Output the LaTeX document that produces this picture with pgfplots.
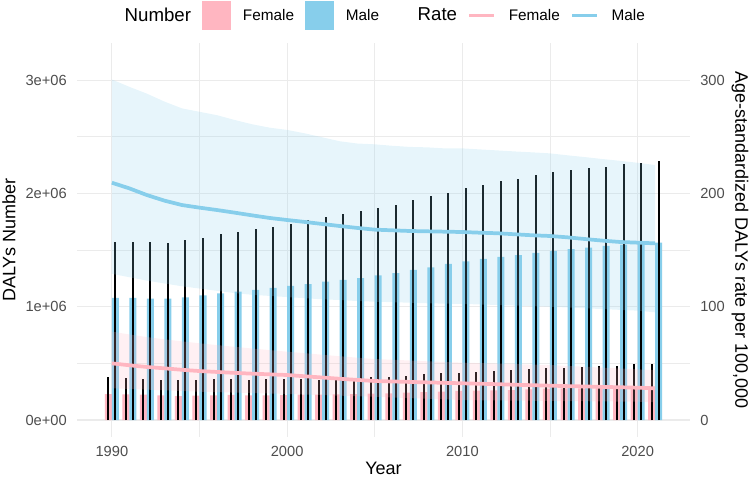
\documentclass[border=0pt]{standalone}
\usepackage{pgfplots}
\pgfplotsset{compat=1.18}
\usepackage{pgfplotstable}
\usepackage{fontspec}
\setmainfont{Liberation Sans}

\definecolor{pinkc}{HTML}{FFB6C1}
\definecolor{bluec}{HTML}{87CEEB}
\definecolor{gridc}{HTML}{EBEBEB}
\definecolor{tickc}{HTML}{4D4D4D}

% DALYs number (bar) and upper bound (error bar)
\pgfplotstableread{
year fnum   fup    mnum    mup
1990 229500 376600 1077000 1574000
1991 226500 368000 1077000 1568000
1992 223600 359000 1071000 1568000
1993 217700 353000 1071000 1565000
1994 211800 350000 1083000 1586000
1995 214800 353000 1100000 1609000
1996 217700 359000 1118000 1644000
1997 220700 359000 1133000 1662000
1998 217700 356000 1148000 1683000
1999 217700 359000 1165000 1703000
2000 220700 359000 1183000 1730000
2001 223600 359000 1200000 1763000
2002 223600 356000 1221000 1789000
2003 226500 362000 1236000 1815000
2004 229500 368000 1253000 1842000
2005 232400 377000 1277000 1868000
2006 235400 382000 1297000 1900000
2007 241200 391000 1324000 1939000
2008 247100 403000 1348000 1974000
2009 250000 412000 1377000 2001000
2010 256000 418000 1401000 2045000
2011 258900 424000 1421000 2077000
2012 261800 432000 1439000 2106000
2013 264800 441000 1456000 2130000
2014 270700 450000 1474000 2159000
2015 276500 456000 1492000 2186000
2016 279500 459000 1509000 2204000
2017 279500 465000 1521000 2227000
2018 285400 474000 1536000 2236000
2019 288300 479000 1547000 2257000
2020 294200 491000 1553000 2266000
2021 294200 491000 1565000 2283000
}\numtab

% age-standardized rate per 100,000
\pgfplotstableread{
year frate mrate
1990 50.0  209.4
1991 48.3  204.4
1992 46.8  198.5
1993 45.6  193.6
1994 44.3  189.7
1995 43.2  187.4
1996 42.4  185.3
1997 41.6  183.0
1998 40.9  180.6
1999 40.3  178.3
2000 39.7  176.5
2001 38.6  174.8
2002 37.5  173.0
2003 36.4  171.2
2004 35.4  169.5
2005 34.4  168.0
2006 34.0  167.4
2007 33.6  166.8
2008 33.2  166.5
2009 32.8  166.2
2010 32.4  165.9
2011 32.0  165.3
2012 31.6  164.8
2013 31.1  163.9
2014 30.7  163.0
2015 30.3  162.4
2016 29.9  161.2
2017 29.6  159.7
2018 29.2  158.3
2019 28.9  157.1
2020 28.5  156.5
2021 28.0  155.9
}\ratetab

\begin{document}
\begin{tikzpicture}
\path[use as bounding box] (-57.75pt,-32.25pt) rectangle (504.75pt,327.75pt);

\begin{axis}[
  at={(0,0)}, anchor=south west,
  scale only axis, width=459.75pt, height=295.5pt,
  xmin=1988.01, xmax=2022.99,
  ymin=-150000, ymax=3327000,
  axis line style={draw=none},
  major tick length=0pt, minor tick length=0pt,
  xtick={1990,2000,2010,2020}, xticklabels={1990,2000,2010,2020},
  minor xtick={1995,2005,2015},
  ytick={0,1000000,2000000,3000000}, yticklabels={0e+00,1e+06,2e+06,3e+06},
  minor ytick={500000,1500000,2500000},
  scaled y ticks=false,
  grid=both,
  major grid style={gridc, line width=0.8pt},
  minor grid style={gridc, line width=0.45pt},
  tick label style={font=\fontsize{11}{13}\selectfont, text=tickc},
  xticklabel style={inner sep=0pt, anchor=north, yshift=-6.75pt},
  yticklabel style={inner sep=0pt, anchor=east, xshift=-7.5pt},
  xlabel={Year}, ylabel={DALYs Number},
  label style={font=\fontsize{13.5}{16}\selectfont},
  xlabel style={at={(axis description cs:0.5,0)}, anchor=north, inner sep=0pt, yshift=-18.75pt},
  ylabel style={at={(axis description cs:-0.111,0.5)}, anchor=center, inner sep=0pt},
  legend style={at={(axis description cs:0.0571,1.0698)}, anchor=west,
    draw=none, fill=none, inner sep=0pt, outer sep=0pt,
    font=\fontsize{11.5}{13}\selectfont,
    /tikz/every odd column/.append style={column sep=7.5pt},
    /tikz/every even column/.append style={column sep=6pt}},
  legend columns=-1,
]
\addlegendimage{empty legend}
\addlegendentry{\fontsize{14}{16}\selectfont Number}
\addlegendimage{legend image code/.code={\fill[pinkc] (0pt,-10.5pt) rectangle (21pt,10.5pt);}}
\addlegendentry{Female}
\addlegendimage{legend image code/.code={\fill[bluec] (0pt,-10.5pt) rectangle (21pt,10.5pt);}}
\addlegendentry{Male}

\addplot[forget plot, ybar, bar width=0.4, bar shift=0pt, fill=pinkc, draw=none]
  table[x expr=\thisrow{year}-0.2, y=fnum]{\numtab};
\addplot[forget plot, ybar, bar width=0.4, bar shift=0pt, fill=bluec, draw=none]
  table[x expr=\thisrow{year}+0.2, y=mnum]{\numtab};
\addplot[forget plot, ycomb, black, line width=1.5pt, mark=none]
  table[x expr=\thisrow{year}-0.2, y=fup]{\numtab};
\addplot[forget plot, ycomb, black, line width=1.5pt, mark=none]
  table[x expr=\thisrow{year}+0.2, y=mup]{\numtab};
\end{axis}

\begin{axis}[
  at={(0,0)}, anchor=south west,
  scale only axis, width=459.75pt, height=295.5pt,
  xmin=1988.01, xmax=2022.99,
  ymin=-15, ymax=332.7,
  axis y line*=right,
  axis line style={draw=none},
  major tick length=0pt, xtick=\empty,
  ytick={0,100,200,300}, yticklabels={0,100,200,300},
  yticklabel style={inner sep=0pt, anchor=west, xshift=7.5pt,
    font=\fontsize{11}{13}\selectfont, text=tickc},
  ylabel={Age-standardized DALYs rate per 100,000},
  ylabel style={at={(axis description cs:1.0816,0.5)}, anchor=center, rotate=180,
    inner sep=0pt, font=\fontsize{13.5}{16}\selectfont},
  legend style={at={(axis description cs:0.5351,1.0698)}, anchor=west,
    draw=none, fill=none, inner sep=0pt, outer sep=0pt,
    font=\fontsize{11.5}{13}\selectfont,
    /tikz/every odd column/.append style={column sep=7.5pt},
    /tikz/every even column/.append style={column sep=6pt}},
  legend columns=-1,
]
\addlegendimage{empty legend}
\addlegendentry{\fontsize{14}{16}\selectfont Rate}
\addlegendimage{legend image code/.code={\draw[pinkc, line width=2.5pt] (0pt,0pt) -- (18.75pt,0pt);}}
\addlegendentry{Female}
\addlegendimage{legend image code/.code={\draw[bluec, line width=2.5pt] (0pt,0pt) -- (18.75pt,0pt);}}
\addlegendentry{Male}

% uncertainty ribbons: upper bound 1990-2021, then lower bound 2021-1990
\addplot[forget plot, fill=pinkc, fill opacity=0.2, draw=none, mark=none] coordinates {
(1990,78)(1991,75.5)(1992,73.2)(1993,71.2)(1994,69.4)(1995,67.7)(1996,66.1)(1997,64.6)
(1998,63.1)(1999,61.7)(2000,60.3)(2001,59)(2002,57.6)(2003,56.3)(2004,55)(2005,53.8)
(2006,53.2)(2007,52.5)(2008,51.8)(2009,51.2)(2010,50.6)(2011,50.2)(2012,49.8)(2013,49.3)
(2014,48.9)(2015,48.5)(2016,47.7)(2017,47)(2018,46.2)(2019,45.5)(2020,44.7)(2021,44)
(2021,15.6)(2020,16.2)(2019,16.3)(2018,16.4)(2017,16.6)(2016,16.7)(2015,16.8)(2014,17)
(2013,17.1)(2012,17.3)(2011,17.4)(2010,17.6)(2009,18.2)(2008,18.8)(2007,19.3)(2006,19.9)
(2005,20.5)(2004,21)(2003,21.5)(2002,22)(2001,22.5)(2000,23)(1999,23.4)(1998,23.8)
(1997,24.2)(1996,24.6)(1995,25)(1994,25.6)(1993,26.2)(1992,26.8)(1991,27.4)(1990,28)
};
\addplot[forget plot, fill=bluec, fill opacity=0.2, draw=none, mark=none] coordinates {
(1990,300.5)(1991,294)(1992,288)(1993,281)(1994,275)(1995,272)(1996,269)(1997,264.8)
(1998,261)(1999,258)(2000,256)(2001,253)(2002,249.5)(2003,246)(2004,244)(2005,243.3)
(2006,242)(2007,241)(2008,240.6)(2009,239.7)(2010,239.7)(2011,238.8)(2012,237.9)(2013,237)
(2014,236.2)(2015,235.3)(2016,233.6)(2017,232)(2018,230.3)(2019,228.7)(2020,227)(2021,225)
(2021,95)(2020,96.5)(2019,97.2)(2018,97.9)(2017,98.6)(2016,99.3)(2015,100)(2014,100.5)
(2013,101)(2012,101.5)(2011,102)(2010,102.4)(2009,102.7)(2008,103)(2007,103.5)(2006,104)
(2005,104.4)(2004,105)(2003,105.9)(2002,106.5)(2001,107.5)(2000,108.5)(1999,109.5)(1998,110.5)
(1997,112)(1996,114)(1995,116)(1994,118)(1993,120.5)(1992,123)(1991,126)(1990,129)
};
\addplot[forget plot, pinkc, line width=2.8pt, mark=none] table[x=year, y=frate]{\ratetab};
\addplot[forget plot, bluec, line width=2.8pt, mark=none] table[x=year, y=mrate]{\ratetab};
\end{axis}
\end{tikzpicture}
\end{document}
